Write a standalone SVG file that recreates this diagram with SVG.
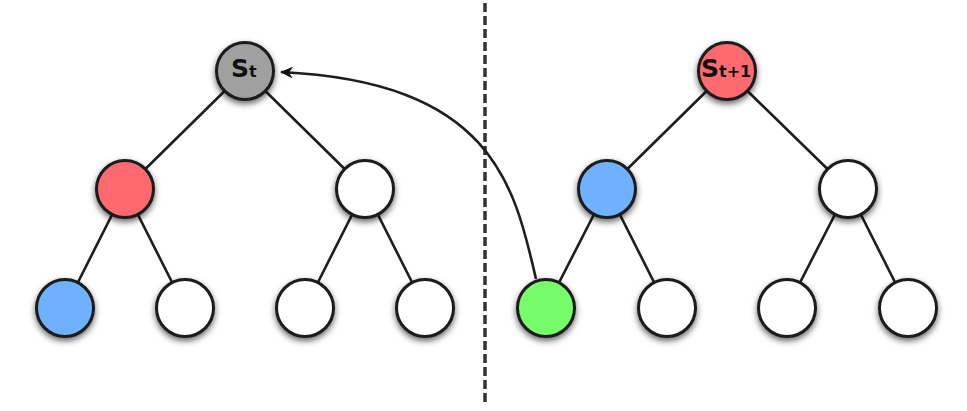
<svg xmlns="http://www.w3.org/2000/svg" width="967" height="411" viewBox="0 0 967 411">
<defs>
<filter id="sh" x="-40%" y="-40%" width="180%" height="190%">
<feDropShadow dx="0" dy="3" stdDeviation="3" flood-color="#000" flood-opacity="0.6"/>
</filter>
<marker id="ah" markerWidth="14" markerHeight="12" refX="12" refY="6" orient="auto" markerUnits="userSpaceOnUse">
<path d="M13,6 L0,0 L4,6 L0,12 Z" fill="#111"/>
</marker>
<style>
.n{stroke:#1a1a1a;stroke-width:3;filter:url(#sh)}
.e{stroke:#1e1e1e;stroke-width:2.6;fill:none}
.w{fill:#fff}.g{fill:#a0a0a0}.r{fill:#ff6b70}.b{fill:#6fb1ff}.gr{fill:#78fd6a}
.big{font-family:"DejaVu Sans",Verdana,sans-serif;font-weight:bold;font-size:25px;fill:#111}
.sm{font-size:16px}
</style>
</defs>
<g id="connectors">
<path class="e" d="M245,71 L125,189 M245,71 L365,189 M125,189 L65,308 M125,189 L185,308 M365,189 L305,308 M365,189 L425,308"/>
<path class="e" d="M727,71 L607,189 M727,71 L848,189 M607,189 L546,308 M607,189 L667,308 M848,189 L787,308 M848,189 L908,308"/>
<line x1="485" y1="3" x2="485" y2="402" stroke="#333" stroke-width="3.5" stroke-dasharray="9 4"/>
<path class="e" d="M536,279 C514,182 490,82 281,72" marker-end="url(#ah)"/>
</g>
<g id="L_root"><circle class="n g" cx="245" cy="71" r="28.5"/><text class="big" x="231" y="77">S<tspan class="sm">t</tspan></text></g>
<g id="L_a"><circle class="n r" cx="125" cy="189" r="28.5"/></g>
<g id="L_b"><circle class="n w" cx="365" cy="189" r="28.5"/></g>
<g id="L_c"><circle class="n b" cx="65" cy="308" r="28.5"/></g>
<g id="L_d"><circle class="n w" cx="185" cy="308" r="28.5"/></g>
<g id="L_e"><circle class="n w" cx="305" cy="308" r="28.5"/></g>
<g id="L_f"><circle class="n w" cx="425" cy="308" r="28.5"/></g>
<g id="R_root"><circle class="n r" cx="727" cy="71" r="28.5"/><text class="big" x="701" y="77">S<tspan class="sm">t+1</tspan></text></g>
<g id="R_a"><circle class="n b" cx="607" cy="189" r="28.5"/></g>
<g id="R_b"><circle class="n w" cx="848" cy="189" r="28.5"/></g>
<g id="R_c"><circle class="n gr" cx="546" cy="308" r="28.5"/></g>
<g id="R_d"><circle class="n w" cx="667" cy="308" r="28.5"/></g>
<g id="R_e"><circle class="n w" cx="787" cy="308" r="28.5"/></g>
<g id="R_f"><circle class="n w" cx="908" cy="308" r="28.5"/></g>
</svg>
